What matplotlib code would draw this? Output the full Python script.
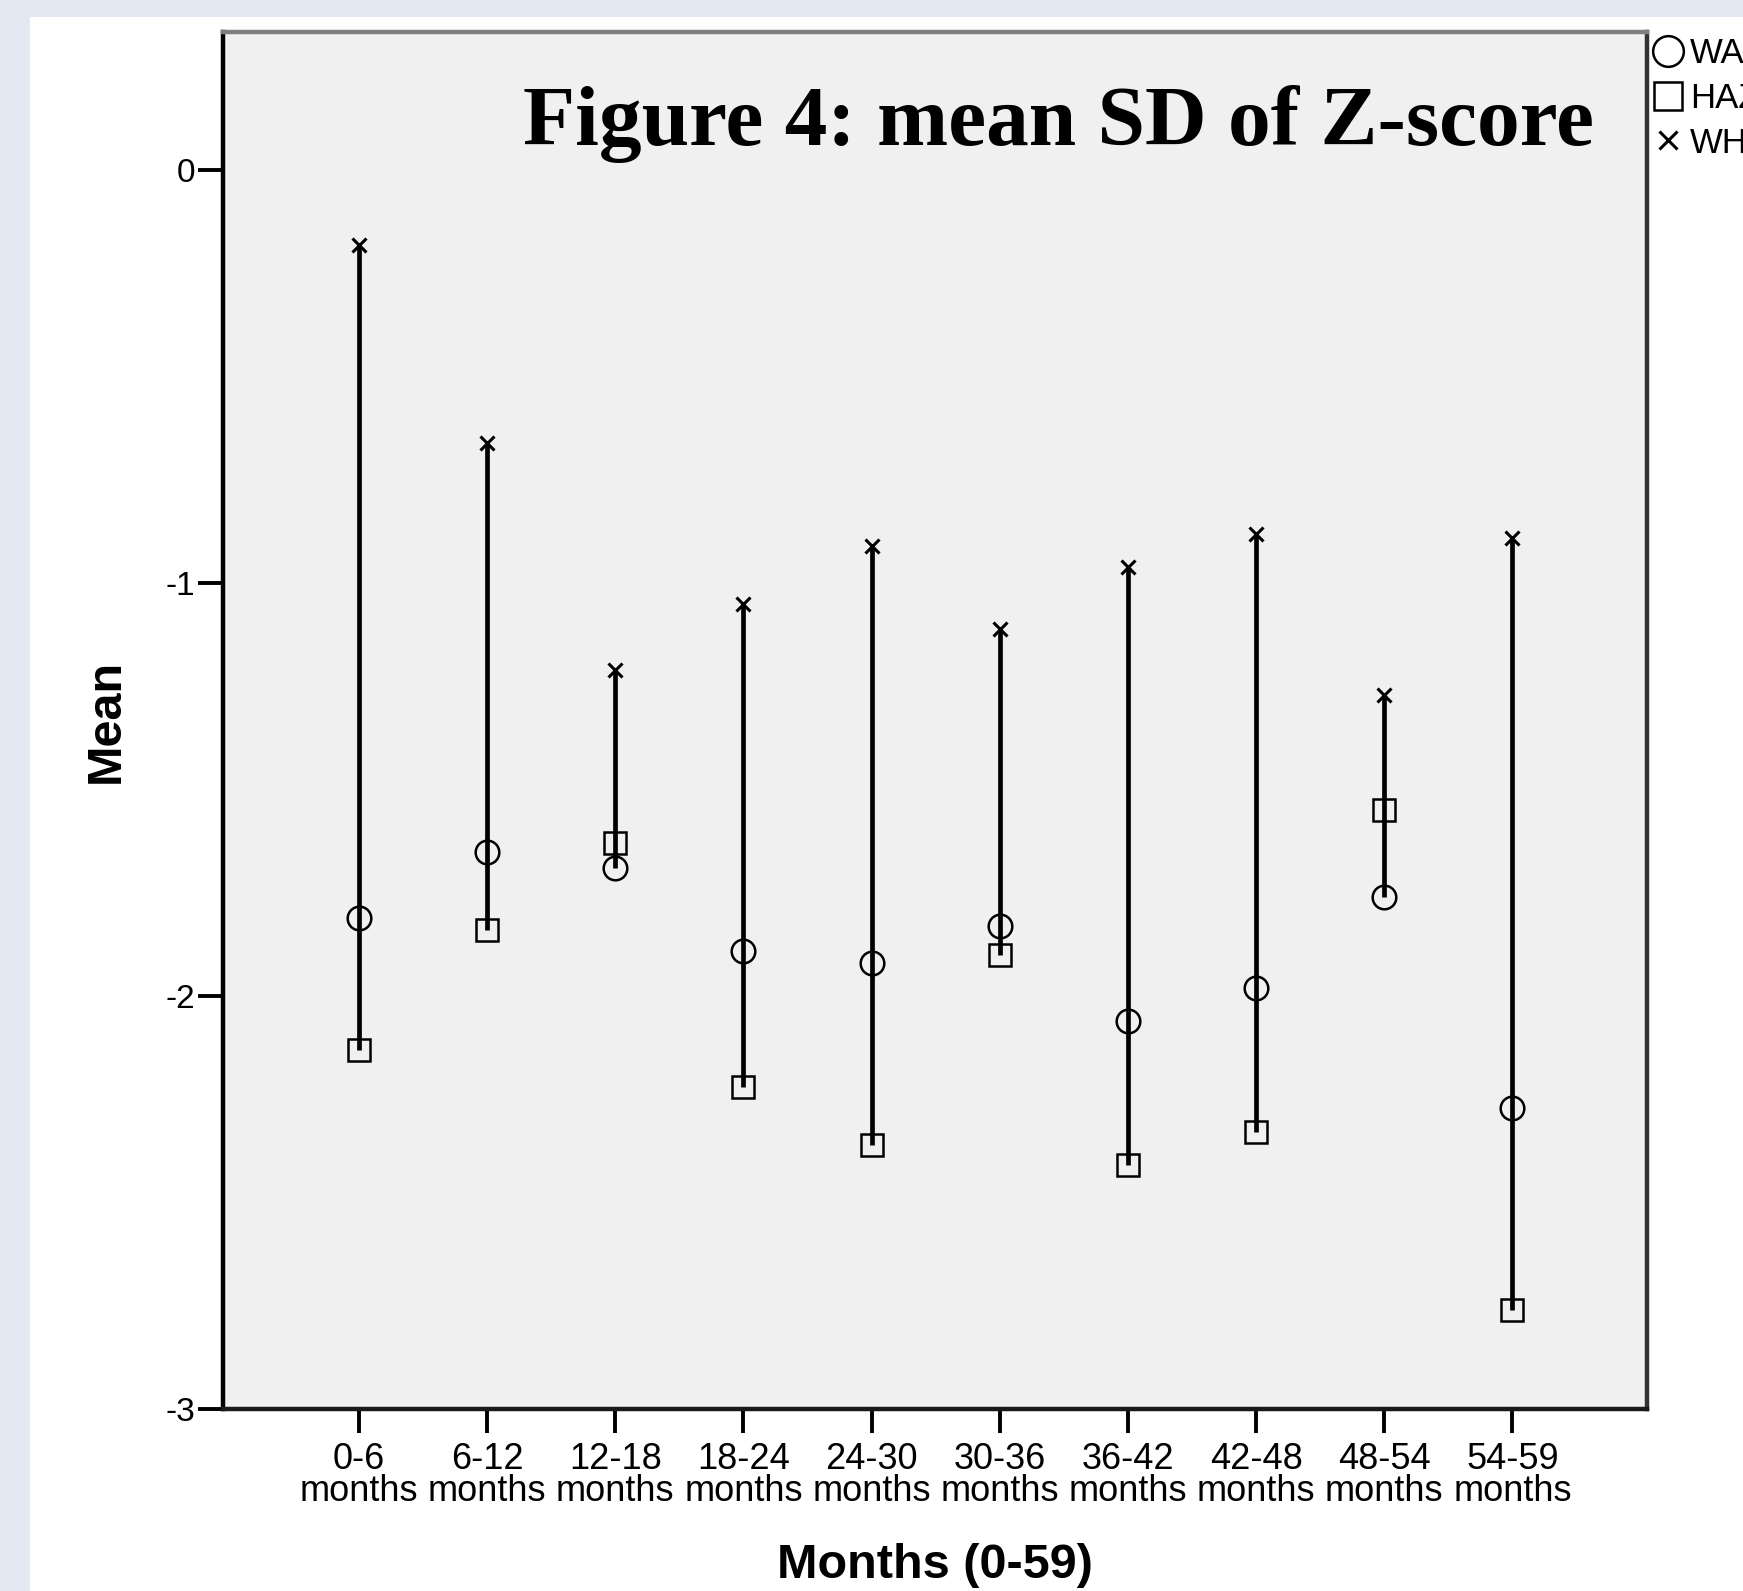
import matplotlib
matplotlib.use("Agg")
import matplotlib.pyplot as plt
from matplotlib.patches import Rectangle
import numpy as np

# age groups (x categories)
groups = ["0-6", "6-12", "12-18", "18-24", "24-30",
          "30-36", "36-42", "42-48", "48-54", "54-59"]
tick_labels = [g + "\nmonths" for g in groups]

# mean z-scores
waz = [-1.81, -1.65, -1.69, -1.89, -1.92, -1.83, -2.06, -1.98, -1.76, -2.27]
haz = [-2.13, -1.84, -1.63, -2.22, -2.36, -1.90, -2.41, -2.33, -1.55, -2.76]
whz = [-0.18, -0.66, -1.21, -1.05, -0.91, -1.11, -0.96, -0.88, -1.27, -0.89]
legend_labels = ["WAZ", "HAZ", "WHZ"]

y_ticks = [0, -1, -2, -3]

W, H, DPI = 1743, 1591, 100
fig = plt.figure(figsize=(W / DPI, H / DPI), dpi=DPI, facecolor="#e3e8f3")
# white panel behind the chart
fig.patches.append(Rectangle((30 / W, 0), 1, 1 - 17 / H, transform=fig.transFigure,
                             facecolor="white", edgecolor="none", zorder=-1))

ax = fig.add_axes([223 / W, 1 - 1409 / H, (1647 - 223) / W, (1409 - 32) / H])
ax.set_facecolor("#f0f0f0")

x = np.arange(len(groups))
lo = np.minimum.reduce([waz, haz, whz])
hi = np.maximum.reduce([waz, haz, whz])
ax.vlines(x, lo, hi, color="black", linewidth=3.4, zorder=2)

h1, = ax.plot(x, waz, linestyle="none", marker="o", markersize=17, fillstyle="none",
              markeredgecolor="black", markeredgewidth=1.8, zorder=3)
h2, = ax.plot(x, haz, linestyle="none", marker="s", markersize=16, fillstyle="none",
              markeredgecolor="black", markeredgewidth=1.8, zorder=3)
h3, = ax.plot(x, whz, linestyle="none", marker="x", markersize=10,
              markeredgecolor="black", markeredgewidth=2.2, zorder=3)

ax.set_xlim(-1.06, 10.05)
ax.set_ylim(-3, 0.335)

ax.set_xticks(x)
ax.set_xticklabels(tick_labels, fontsize=26, family="Liberation Sans", linespacing=0.88)
ax.set_yticks(y_ticks)
ax.set_yticklabels([str(v) for v in y_ticks], fontsize=24, family="Liberation Sans")
ax.tick_params(axis="x", length=17, width=2.8, pad=7, color="black")
ax.tick_params(axis="y", length=18, width=2.8, pad=2, color="black")

for side, col in [("top", "#7f7f7f"), ("left", "black"),
                  ("bottom", "#1a1a1a"), ("right", "#333333")]:
    ax.spines[side].set_color(col)
    ax.spines[side].set_linewidth(3.2)

ax.set_xlabel("Months (0-59)", fontsize=35, fontweight="bold",
              family="Liberation Sans", va="center")
ax.xaxis.set_label_coords(0.5, -0.114)
ax.set_ylabel("Mean", fontsize=35, fontweight="bold",
              family="Liberation Sans", va="center")
ax.yaxis.set_label_coords(-0.082, 0.5)

fig.text(1594 / W, 1 - 145 / H, "Figure 4: mean SD of Z-score",
         fontsize=61.5, fontweight="bold", family="Liberation Serif",
         ha="right", va="baseline")

# legend sits at the right edge and is clipped by the figure border, as in the source
leg = fig.legend([h1, h2, h3], legend_labels, loc="upper left",
                 bbox_to_anchor=(1652 / W, 1 - 37 / H), frameon=False,
                 prop={"family": "Liberation Sans", "size": 25},
                 handlelength=0.9, handletextpad=0.2, labelspacing=0.34,
                 borderpad=0, borderaxespad=0, markerscale=1.3)

fig.savefig("out.png", dpi=DPI, facecolor=fig.get_facecolor())
